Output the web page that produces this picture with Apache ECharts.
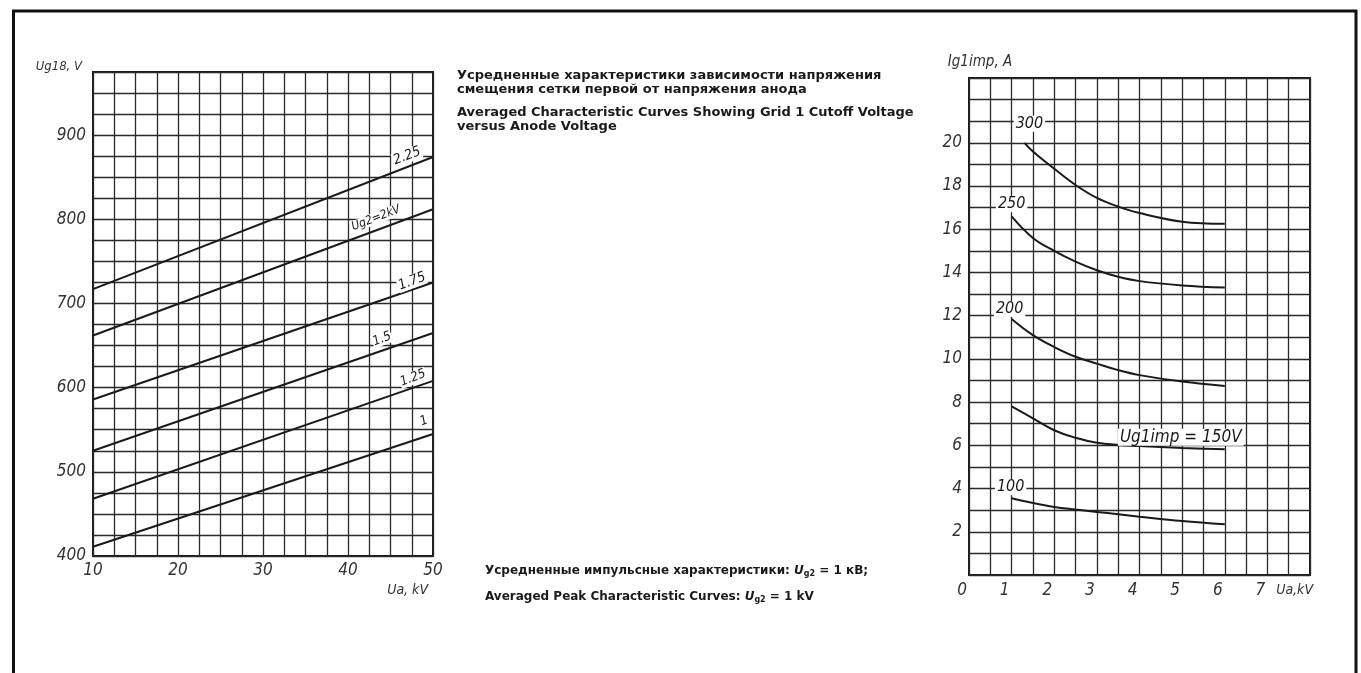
<!DOCTYPE html>
<html>
<head>
<meta charset="utf-8">
<script src="https://cdn.jsdelivr.net/npm/echarts@6/dist/echarts.min.js"></script>
<style>
html,body{margin:0;padding:0;background:#fff;}
#chart{width:1361px;height:673px;}
</style>
</head>
<body>
<div id="chart"></div>
<script>
// ---------- DATA ----------
// Left chart: Grid 1 cutoff voltage (V) vs anode voltage (kV), straight lines
const anodeKV = [10, 50];
const cutoff_ug2_100 = [411, 545];
const cutoff_ug2_125 = [468, 608];
const cutoff_ug2_150 = [525, 665];
const cutoff_ug2_175 = [586, 725];
const cutoff_ug2_200 = [662, 812];
const cutoff_ug2_225 = [717, 874];
const cutoffNames = ['1', '1.25', '1.5', '1.75', 'Ug2=2kV', '2.25'];

// Right chart: peak grid current (A) vs anode voltage (kV)
const uaPeak = [1, 1.5, 2, 2.5, 3, 3.5, 4, 5, 6];
const uaPeak300 = [1.3, 1.5, 2, 2.5, 3, 3.5, 4, 5, 6];
const ig_100 = [3.55, 3.33, 3.15, 3.03, 2.92, 2.81, 2.7, 2.5, 2.35];
const ig_150 = [7.8, 7.25, 6.7, 6.35, 6.12, 6.02, 5.97, 5.88, 5.82];
const ig_200 = [11.85, 11.1, 10.55, 10.1, 9.78, 9.48, 9.25, 8.95, 8.75];
const ig_250 = [16.6, 15.6, 15.0, 14.5, 14.1, 13.8, 13.6, 13.4, 13.3];
const ig_300 = [20.0, 19.6, 18.8, 18.05, 17.45, 17.05, 16.75, 16.35, 16.25];
const peakNames = ['100', 'Ug1imp = 150V', '200', '250', '300'];

// Tick label sets
const leftXTicks = [10, 20, 30, 40, 50];
const leftYTicks = [400, 500, 600, 700, 800, 900];
const rightXTicks = [0, 1, 2, 3, 4, 5, 6, 7];
const rightYTicks = [2, 4, 6, 8, 10, 12, 14, 16, 18, 20];

// ---------- STYLE ----------
const techFont = '"Liberation Sans Narrow", "DejaVu Sans Condensed", "Liberation Sans", sans-serif';
const textFont = '"DejaVu Sans", "Liberation Sans", sans-serif';
const ink = '#1a1a1a';
const gridInk = '#2a2a2a';

const chart = echarts.init(document.getElementById('chart'), null, {renderer: 'canvas'});

function pairs(xs, ys) { return xs.map((x, i) => [x, ys[i]]); }

const labelBase = {
  show: true, fontFamily: techFont, fontStyle: 'italic', color: ink,
  align: 'center', verticalAlign: 'middle', backgroundColor: '#fff', padding: [0, 1]
};

// left chart label placement (relative to last point)
const leftLabelStyle = [
  {pos: [-9, -13], rotate: 21, size: 13},
  {pos: [-20, -3], rotate: 21, size: 13},
  {pos: [-51, 6], rotate: 21, size: 13},
  {pos: [-21, -1], rotate: 21, size: 14},
  {pos: [-57, 9], rotate: 21, size: 12},
  {pos: [-26, -1], rotate: 21, size: 14}
];
const leftSets = [cutoff_ug2_100, cutoff_ug2_125, cutoff_ug2_150, cutoff_ug2_175, cutoff_ug2_200, cutoff_ug2_225];

const series = [];
leftSets.forEach((ys, k) => {
  const pts = pairs(anodeKV, ys);
  const st = leftLabelStyle[k];
  const data = pts.map((p, i) => i === pts.length - 1 ? {
    value: p,
    label: Object.assign({}, labelBase, {formatter: cutoffNames[k], position: st.pos, rotate: st.rotate, fontSize: st.size})
  } : {value: p, label: {show: false}});
  series.push({
    type: 'line', xAxisIndex: 0, yAxisIndex: 0, data: data,
    showSymbol: true, symbol: 'circle', symbolSize: 0, silent: true,
    lineStyle: {color: ink, width: 2}, itemStyle: {color: ink}, z: 5
  });
});

// right chart curves, label on first point (150 V: on last point)
const rightSets = [
  {xs: uaPeak, ys: ig_100, pos: [-1, -11], size: 16, first: true},
  {xs: uaPeak, ys: ig_150, pos: [-44, -12], size: 17, first: false},
  {xs: uaPeak, ys: ig_200, pos: [-2, -10], size: 16, first: true},
  {xs: uaPeak, ys: ig_250, pos: [0, -12], size: 16, first: true},
  {xs: uaPeak300, ys: ig_300, pos: [5, -19], size: 16, first: true}
];
rightSets.forEach((s, k) => {
  const pts = pairs(s.xs, s.ys);
  const li = s.first ? 0 : pts.length - 1;
  const data = pts.map((p, i) => i === li ? {
    value: p,
    label: Object.assign({}, labelBase, {formatter: peakNames[k], position: s.pos, fontSize: s.size, padding: [0, 2]})
  } : {value: p, label: {show: false}});
  series.push({
    type: 'line', xAxisIndex: 1, yAxisIndex: 1, data: data, smooth: 0.4,
    showSymbol: true, symbol: 'circle', symbolSize: 0, silent: true,
    lineStyle: {color: ink, width: 2}, itemStyle: {color: ink}, z: 5
  });
});

const axisLabelStyle = {fontFamily: techFont, fontStyle: 'italic', fontSize: 17, color: '#333'};
const splitStyle = {show: true, lineStyle: {color: gridInk, width: 1.3}};

const boldText = {fontFamily: textFont, fontWeight: 'bold', color: ink};

const option = {
  animation: false,
  backgroundColor: '#fff',
  title: [
    {
      text: 'Усредненные характеристики зависимости напряжения\nсмещения сетки первой от напряжения анода',
      left: 457, top: 69, padding: 0,
      textStyle: Object.assign({fontSize: 13, lineHeight: 14}, boldText)
    },
    {
      text: 'Averaged Characteristic Curves Showing Grid 1 Cutoff Voltage\nversus Anode Voltage',
      left: 457, top: 106, padding: 0,
      textStyle: Object.assign({fontSize: 13, lineHeight: 14}, boldText)
    },
    {
      text: '{b|Усредненные импульсные характеристики: }{u|U}{s|g2}{b| = 1 кВ;}',
      left: 485, top: 564, padding: 0,
      textStyle: {
        rich: {
          b: Object.assign({fontSize: 12, lineHeight: 14}, boldText),
          u: Object.assign({fontSize: 12, lineHeight: 14, fontStyle: 'italic'}, boldText),
          s: Object.assign({fontSize: 8, lineHeight: 14, verticalAlign: 'bottom', padding: [5, 0, 0, 0]}, boldText)
        }
      }
    },
    {
      text: '{b|Averaged Peak Characteristic Curves: }{u|U}{s|g2}{b| = 1 kV}',
      left: 485, top: 590, padding: 0,
      textStyle: {
        rich: {
          b: Object.assign({fontSize: 12, lineHeight: 14}, boldText),
          u: Object.assign({fontSize: 12, lineHeight: 14, fontStyle: 'italic'}, boldText),
          s: Object.assign({fontSize: 8, lineHeight: 14, verticalAlign: 'bottom', padding: [5, 0, 0, 0]}, boldText)
        }
      }
    },
    {
      text: 'Ua, kV',
      right: 1361 - 428, top: 583, padding: 0,
      textStyle: {fontFamily: techFont, fontStyle: 'italic', fontWeight: 'normal', fontSize: 14, color: '#333'}
    }
  ],
  grid: [
    {left: 93, top: 72, width: 340, height: 484, show: true, borderColor: ink, borderWidth: 2, backgroundColor: 'transparent'},
    {left: 969, top: 78, width: 341, height: 497, show: true, borderColor: ink, borderWidth: 2, backgroundColor: 'transparent'}
  ],
  xAxis: [
    {
      gridIndex: 0, type: 'value', min: 10, max: 50, interval: 2.5,
      axisLine: {show: false}, axisTick: {show: false},
      splitLine: splitStyle,
      axisLabel: Object.assign({}, axisLabelStyle, {margin: 6, formatter: v => leftXTicks.includes(v) ? String(v) : ''})
    },
    {
      gridIndex: 1, type: 'value', min: 0, max: 8, interval: 0.5,
      axisLine: {show: false}, axisTick: {show: false},
      splitLine: splitStyle,
      axisLabel: Object.assign({}, axisLabelStyle, {margin: 7, padding: [0, 14, 0, 0], formatter: v => rightXTicks.includes(v) ? String(v) : ''}),
      name: 'Ua,kV', nameLocation: 'end', nameGap: 3,
      nameTextStyle: {fontFamily: techFont, fontStyle: 'italic', fontSize: 14, color: '#333', align: 'right', verticalAlign: 'top', padding: [8, 0, 0, 0]}
    }
  ],
  yAxis: [
    {
      gridIndex: 0, type: 'value', min: 400, max: 975, interval: 25,
      axisLine: {show: false}, axisTick: {show: false},
      splitLine: splitStyle,
      axisLabel: Object.assign({}, axisLabelStyle, {margin: 7, formatter: v => leftYTicks.includes(v) ? String(v) : ''}),
      name: 'Ug18, V', nameLocation: 'end', nameGap: 5,
      nameTextStyle: {fontFamily: techFont, fontStyle: 'italic', fontSize: 13, color: '#333', align: 'right', verticalAlign: 'middle', padding: [0, 11, 0, 0]}
    },
    {
      gridIndex: 1, type: 'value', min: 0, max: 23, interval: 1,
      axisLine: {show: false}, axisTick: {show: false},
      splitLine: splitStyle,
      axisLabel: Object.assign({}, axisLabelStyle, {margin: 7, formatter: v => rightYTicks.includes(v) ? String(v) : ''}),
      name: 'Ig1imp, A', nameLocation: 'end', nameGap: 16,
      nameTextStyle: {fontFamily: techFont, fontStyle: 'italic', fontSize: 15, color: '#333', align: 'center', verticalAlign: 'middle', padding: [0, 0, 0, 22]}
    }
  ],
  graphic: [
    {type: 'line', shape: {x1: 12, y1: 11, x2: 1357, y2: 11}, style: {stroke: '#111', lineWidth: 3}, silent: true},
    {type: 'line', shape: {x1: 13.5, y1: 10, x2: 13.5, y2: 673}, style: {stroke: '#111', lineWidth: 3}, silent: true},
    {type: 'line', shape: {x1: 1356, y1: 10, x2: 1356, y2: 673}, style: {stroke: '#111', lineWidth: 3}, silent: true}
  ],
  series: series
};
chart.setOption(option);
</script>
</body>
</html>
